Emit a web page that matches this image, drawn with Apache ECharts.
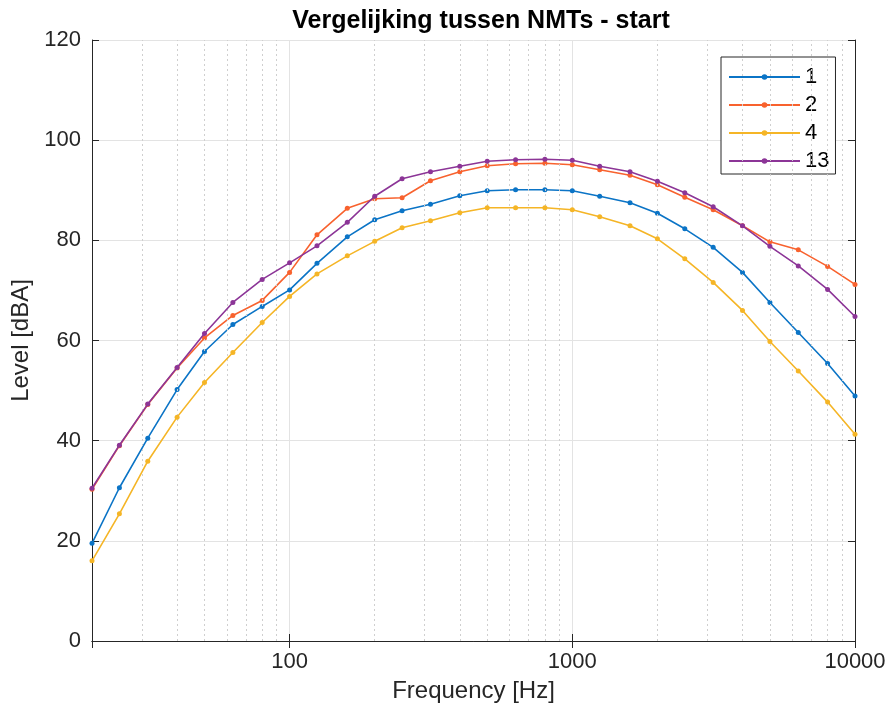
<!DOCTYPE html>
<html>
<head>
<meta charset="utf-8">
<script src="https://cdn.jsdelivr.net/npm/echarts@6/dist/echarts.min.js"></script>
<style>html,body{margin:0;padding:0;background:#fff}#c{width:890px;height:718px}</style>
</head>
<body>
<div id="c"></div>
<script>
var freqs = [20,25,31.5,40,50,63,80,100,125,160,200,250,315,400,500,630,800,1000,1250,1600,2000,2500,3150,4000,5000,6300,8000,10000];
var s1  = [19.5,30.6,40.5,50.2,57.8,63.2,66.8,70.1,75.4,80.7,84.1,85.9,87.2,88.9,89.9,90.1,90.1,89.9,88.8,87.5,85.4,82.3,78.6,73.6,67.6,61.6,55.4,48.9];
var s2  = [30.3,39.0,47.2,54.5,60.5,65.0,68.0,73.6,81.1,86.4,88.3,88.5,91.9,93.7,94.9,95.3,95.4,95.1,94.1,93.0,91.1,88.6,86.1,82.9,79.7,78.1,74.8,71.2];
var s4  = [16.0,25.4,35.9,44.7,51.6,57.6,63.6,68.8,73.3,76.9,79.8,82.5,83.9,85.5,86.5,86.5,86.5,86.1,84.7,82.9,80.3,76.3,71.6,66.0,59.8,53.9,47.7,41.3];
var s13 = [30.5,39.1,47.3,54.6,61.4,67.6,72.2,75.5,78.9,83.6,88.8,92.3,93.7,94.8,95.8,96.1,96.2,96.0,94.8,93.7,91.8,89.5,86.7,82.9,78.8,74.9,70.2,64.8];
var seriesNames = ['1','2','4','13'];
var seriesColors = ['#0b74c6','#f8622e','#f5b526','#8c3597'];
var minorGridX = [30,40,50,60,70,80,90,200,300,400,500,600,700,800,900,2000,3000,4000,5000,6000,7000,8000,9000];
var xTickLabels = [100,1000,10000];

var FONT = '"Liberation Sans", Arial, Helvetica, sans-serif';
var axisColor = '#262626';

function pairs(vals){ return freqs.map(function(f,i){ return [f, vals[i]]; }); }
var allVals = [s1,s2,s4,s13];

var series = [{
  name: '_grid', type: 'line', data: [], silent: true, z: 1,
  markLine: {
    silent: true, symbol: 'none', animation: false,
    label: {show: false},
    lineStyle: {color: '#cfcfcf', type: [2,3], width: 1},
    data: minorGridX.map(function(v){ return {xAxis: v}; })
  }
}];
allVals.forEach(function(vals, i){
  series.push({
    name: seriesNames[i], type: 'line', data: pairs(vals),
    symbol: 'circle', symbolSize: 5, showSymbol: true,
    lineStyle: {width: 1.6, color: seriesColors[i]},
    itemStyle: {color: seriesColors[i]},
    z: 3 + i, animation: false
  });
});

var baseX = {
  type: 'log', logBase: 10, min: 20, max: 10000
};
var chart = echarts.init(document.getElementById('c'), null, {renderer: 'canvas'});
chart.setOption({
  backgroundColor: '#fff',
  animation: false,
  title: {
    text: 'Vergelijking tussen NMTs - start',
    left: 476, top: 4, textAlign: 'center',
    textStyle: {fontFamily: FONT, fontWeight: 'bold', fontSize: 25, color: '#000'}
  },
  grid: {left: 92, right: 35, top: 40, bottom: 77, containLabel: false},
  legend: {
    data: seriesNames,
    orient: 'vertical', left: 721, top: 57,
    padding: [9, 6, 2, 7], itemGap: 6, itemWidth: 71, itemHeight: 7,
    backgroundColor: '#fff', borderColor: axisColor, borderWidth: 1, borderRadius: 0,
    textStyle: {fontFamily: FONT, fontSize: 22, color: '#000'}
  },
  xAxis: [
    Object.assign({}, baseX, {
      position: 'bottom',
      name: 'Frequency [Hz]', nameLocation: 'middle', nameGap: 38,
      nameTextStyle: {fontFamily: FONT, fontSize: 24, color: axisColor},
      axisLine: {show: true, lineStyle: {color: axisColor, width: 1}},
      axisTick: {show: true, inside: true, length: 7, lineStyle: {color: axisColor}},
      axisLabel: {
        fontFamily: FONT, fontSize: 22, color: axisColor, margin: 10,
        showMinLabel: true, showMaxLabel: true,
        formatter: function(v){
          for (var k = 0; k < xTickLabels.length; k++) {
            if (Math.abs(v - xTickLabels[k]) < 1e-6 * xTickLabels[k]) return String(xTickLabels[k]);
          }
          return '';
        }
      },
      splitLine: {show: true, lineStyle: {color: '#e3e3e3', width: 1}}
    }),
    Object.assign({}, baseX, {
      position: 'top',
      axisLine: {show: true, lineStyle: {color: axisColor, width: 1}},
      axisTick: {show: true, inside: true, length: 7, lineStyle: {color: axisColor}},
      axisLabel: {show: false},
      splitLine: {show: false}
    })
  ],
  yAxis: [
    {
      type: 'value', min: 0, max: 120, interval: 20, position: 'left',
      name: 'Level [dBA]', nameLocation: 'middle', nameGap: 58,
      nameTextStyle: {fontFamily: FONT, fontSize: 24, color: axisColor},
      axisLine: {show: true, lineStyle: {color: axisColor, width: 1}},
      axisTick: {show: true, inside: true, length: 7, lineStyle: {color: axisColor}},
      axisLabel: {fontFamily: FONT, fontSize: 22, color: axisColor, margin: 11},
      splitLine: {show: true, lineStyle: {color: '#e3e3e3', width: 1}}
    },
    {
      type: 'value', min: 0, max: 120, interval: 20, position: 'right',
      axisLine: {show: true, lineStyle: {color: axisColor, width: 1}},
      axisTick: {show: true, inside: true, length: 7, lineStyle: {color: axisColor}},
      axisLabel: {show: false},
      splitLine: {show: false}
    }
  ],
  series: series
});
</script>
</body>
</html>
